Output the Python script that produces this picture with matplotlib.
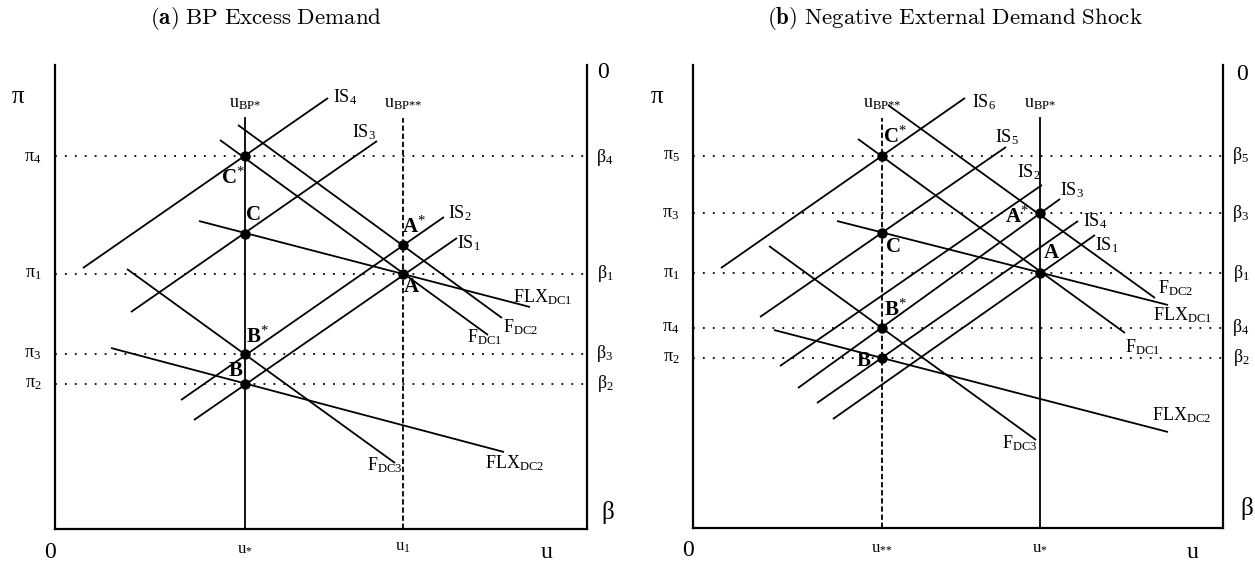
import matplotlib.pyplot as plt

plt.rcParams['font.family'] = ['Liberation Serif', 'DejaVu Serif']
plt.rcParams['mathtext.fontset'] = 'custom'
plt.rcParams['mathtext.rm'] = 'Liberation Serif'
plt.rcParams['mathtext.it'] = 'Liberation Serif:italic'
plt.rcParams['mathtext.bf'] = 'Liberation Serif:bold'

# schematic coordinates of each panel: u to the right, pi upwards, origin at the corner

# ---- panel (a) BP excess demand ----
a_size = (532, 464)
a_title = r'$\mathbf{(a)}\ \mathrm{BP\ Excess\ Demand}$'
a_title_xy = (211, 511)
a_lvl_idx = ['4', '1', '3', '2']
a_lvl_y = [373, 255, 175, 145]
a_lvl_lbl_y = [372, 255, 176, 145]
a_vert_x = [190, 348]
a_vert_top = 411
a_vert_dashed = [False, True]
a_vert_top_lbl = ['BP{*}', 'BP{*}{*}']
a_vert_bot_lbl = ['*', '1']
a_lines = {
    'IS4': [(28, 261), (273, 431)],
    'IS3': [(76, 217), (322, 388)],
    'IS2': [(126, 129), (389, 312)],
    'IS1': [(139, 109), (402, 291)],
    'FDC1': [(165, 389), (433, 194)],
    'FDC2': [(183, 404), (447, 211)],
    'FDC3': [(72, 260), (340, 66)],
    'FLXDC1': [(144, 308), (475, 222)],
    'FLXDC2': [(56, 181), (449, 77)],
}
a_line_lbl = {
    'IS4': (278, 432), 'IS3': (297, 397), 'IS2': (393, 316), 'IS1': (402, 286),
    'FDC1': (412, 192), 'FDC2': (448, 202), 'FDC3': (312, 64),
    'FLXDC1': (458, 232), 'FLXDC2': (430, 66),
}
a_pts = {'C*': (190, 373), 'C': (190, 295), 'B*': (190, 175), 'B': (190, 145),
         'A*': (348, 284), 'A': (348, 255)}
a_pt_lbl = {'C*': (178, 351), 'C': (198, 313), 'B*': (202, 192), 'B': (181, 158),
            'A*': (359, 302), 'A': (356, 241)}
a_axis_lbl = {'pi': (-37, 432), 'zero_top': (548, 456), 'zero_bot': (-5, -23),
              'u': (492, -23), 'beta': (553, 16)}

# ---- panel (b) negative external demand shock ----
b_size = (530, 463)
b_title = r'$\mathbf{(b)}\ \mathrm{Negative\ External\ Demand\ Shock}$'
b_title_xy = (262, 510)
b_lvl_idx = ['5', '3', '1', '4', '2']
b_lvl_y = [372, 315, 255, 200, 170]
b_lvl_lbl_y = [372, 315, 255, 200, 170]
b_vert_x = [189, 347]
b_vert_top = 410
b_vert_dashed = [True, False]
b_vert_top_lbl = ['BP{*}{*}', 'BP{*}']
b_vert_bot_lbl = ['{*}{*}', '*']
b_lines = {
    'IS6': [(28, 260), (272, 430)],
    'IS5': [(67, 211), (313, 381)],
    'IS2': [(87, 162), (349, 343)],
    'IS3': [(105, 140), (367, 329)],
    'IS4': [(124, 125), (385, 307)],
    'IS1': [(140, 109), (402, 293)],
    'FDC1': [(165, 389), (432, 195)],
    'FDC2': [(195, 423), (462, 230)],
    'FDC3': [(76, 282), (343, 88)],
    'FLXDC1': [(144, 307), (475, 223)],
    'FLXDC2': [(81, 198), (475, 96)],
}
b_line_lbl = {
    'IS6': (279, 426), 'IS5': (302, 391), 'IS2': (324, 356), 'IS3': (367, 338),
    'IS4': (390, 307), 'IS1': (402, 283),
    'FDC1': (432, 181), 'FDC2': (465, 240), 'FDC3': (309, 85),
    'FLXDC1': (460, 213), 'FLXDC2': (459, 113),
}
b_pts = {'C*': (189, 372), 'C': (189, 295), 'B*': (189, 200), 'B': (189, 170),
         'A*': (347, 315), 'A': (347, 255)}
b_pt_lbl = {'C*': (202, 391), 'C': (200, 280), 'B*': (202, 218), 'B': (171, 166),
            'A*': (324, 311), 'A': (358, 275)}
b_axis_lbl = {'pi': (-36, 431), 'zero_top': (549, 453), 'zero_bot': (-5, -22),
              'u': (500, -24), 'beta': (554, 20)}


def line_text(name):
    if name.startswith('IS'):
        return r'$\mathrm{IS}_{%s}$' % name[2:]
    if name.startswith('FLX'):
        return r'$\mathrm{FLX}_{\mathrm{%s}}$' % name[3:]
    return r'$\mathrm{F}_{\mathrm{%s}}$' % name[1:]


def pt_text(name):
    if name.endswith('*'):
        return r'$\mathbf{%s}^{*}$' % name[0]
    return r'$\mathbf{%s}$' % name


def draw_panel(ax, size, title, title_xy, lvl_idx, lvl_y, lvl_lbl_y, vx, vtop,
               vdashed, vtop_lbl, vbot_lbl, lines, line_lbl, pts, pt_lbl, axis_lbl):
    w, h = size
    ax.set_xlim(0, w)
    ax.set_ylim(0, h)
    ax.set_xticks([])
    ax.set_yticks([])
    ax.spines['top'].set_visible(False)
    for s in ['left', 'bottom', 'right']:
        ax.spines[s].set_linewidth(1.6)

    for idx, y, ly in zip(lvl_idx, lvl_y, lvl_lbl_y):
        ax.plot([0, w], [y, y], color='black', lw=1.3, ls=(0, (1, 4.5)))
        ax.text(-22, ly, r'$\mathrm{\pi}_{%s}$' % idx, fontsize=13, ha='center',
                va='center', clip_on=False)
        ax.text(w + 18, ly, r'$\mathrm{\beta}_{%s}$' % idx, fontsize=13, ha='center',
                va='center', clip_on=False)

    for x, dashed, tl, bl in zip(vx, vdashed, vtop_lbl, vbot_lbl):
        ax.plot([x, x], [0, vtop], color='black', lw=1.3,
                ls=(0, (3, 1.5)) if dashed else '-')
        ax.text(x, vtop + 15, r'$\mathrm{u}_{\mathrm{%s}}$' % tl, fontsize=13,
                ha='center', va='center', clip_on=False)
        ax.text(x, -18, r'$\mathrm{u}_{%s}$' % bl, fontsize=12,
                ha='center', va='center', clip_on=False)

    for name, seg in lines.items():
        (x0, y0), (x1, y1) = seg
        ax.plot([x0, x1], [y0, y1], color='black', lw=1.3, solid_capstyle='butt')
        lx, ly = line_lbl[name]
        ax.text(lx, ly, line_text(name), fontsize=13, ha='left', va='center')

    for name, (x, y) in pts.items():
        ax.plot(x, y, 'o', color='black', ms=6.5, zorder=5)
        lx, ly = pt_lbl[name]
        ax.text(lx, ly, pt_text(name), fontsize=15, ha='center', va='center')

    ax.text(*axis_lbl['pi'], r'$\mathrm{\pi}$', fontsize=18, ha='center',
            va='center', clip_on=False)
    ax.text(*axis_lbl['beta'], r'$\mathrm{\beta}$', fontsize=18, ha='center',
            va='center', clip_on=False)
    ax.text(*axis_lbl['zero_top'], '0', fontsize=17, ha='center', va='center',
            clip_on=False)
    ax.text(*axis_lbl['zero_bot'], '0', fontsize=17, ha='center', va='center',
            clip_on=False)
    ax.text(*axis_lbl['u'], 'u', fontsize=17, ha='center', va='center',
            clip_on=False)
    ax.text(*title_xy, title, fontsize=16.5, ha='center', va='center',
            math_fontfamily='cm', clip_on=False)


fig = plt.figure(figsize=(12.55, 5.61), dpi=100)
ax1 = fig.add_axes([55 / 1255, 32 / 561, 532 / 1255, 464 / 561])
ax2 = fig.add_axes([693 / 1255, 33 / 561, 530 / 1255, 463 / 561])

draw_panel(ax1, a_size, a_title, a_title_xy, a_lvl_idx, a_lvl_y, a_lvl_lbl_y,
           a_vert_x, a_vert_top, a_vert_dashed, a_vert_top_lbl, a_vert_bot_lbl,
           a_lines, a_line_lbl, a_pts, a_pt_lbl, a_axis_lbl)
draw_panel(ax2, b_size, b_title, b_title_xy, b_lvl_idx, b_lvl_y, b_lvl_lbl_y,
           b_vert_x, b_vert_top, b_vert_dashed, b_vert_top_lbl, b_vert_bot_lbl,
           b_lines, b_line_lbl, b_pts, b_pt_lbl, b_axis_lbl)

fig.savefig('out.png', dpi=100)
